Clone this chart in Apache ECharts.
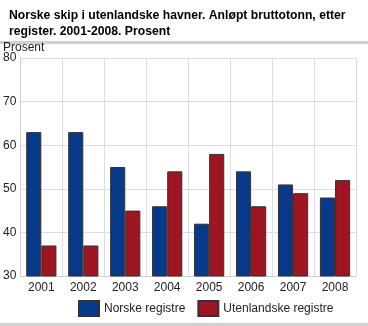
<!DOCTYPE html>
<html><head><meta charset="utf-8">
<script src="https://cdn.jsdelivr.net/npm/echarts@6/dist/echarts.min.js"></script>
<style>html,body{margin:0;padding:0;background:#fff}#c{width:368px;height:326px}</style>
</head><body><div id="c"></div>
<script>
const categories = ['2001','2002','2003','2004','2005','2006','2007','2008'];
const norske = [63,63,55,46,42,54,51,48];
const utenlandske = [37,37,45,54,58,46,49,52];
const yTicks = [30,40,50,60,70,80];

const chart = echarts.init(document.getElementById('c'), null, {renderer:'canvas'});
const font = 'Liberation Sans, Arial, sans-serif';
chart.setOption({
  animation:false,
  textStyle:{fontFamily:font},
  title:{
    text:'Norske skip i utenlandske havner. Anløpt bruttotonn, etter\nregister. 2001-2008. Prosent',
    left:4, top:3,
    textStyle:{fontFamily:font,fontSize:12.2,fontWeight:'bold',color:'#000',lineHeight:16}
  },
  graphic:[
    {type:'rect',shape:{x:0,y:41,width:368,height:3},style:{fill:'#d0d0d0'}},
    {type:'rect',shape:{x:0,y:323,width:368,height:3},style:{fill:'#d0d0d0'}},
    {type:'text',left:3,top:42,style:{text:'Prosent',font:'12px '+font,fill:'#222'}}
  ],
  legend:{
    bottom:4, left:73, icon:'rect',
    itemWidth:20, itemHeight:15, itemGap:12,
    textStyle:{fontFamily:font,fontSize:12,color:'#222'},
    data:['Norske registre','Utenlandske registre']
  },
  grid:{left:20,right:12,top:58,bottom:50},
  xAxis:{
    type:'category', data:categories,
    axisLine:{lineStyle:{color:'#ccc'}},
    axisTick:{show:false},
    splitLine:{show:true,lineStyle:{color:'#ddd'}},
    axisLabel:{color:'#222',fontSize:12,fontFamily:font,margin:6}
  },
  yAxis:{
    type:'value', min:yTicks[0], max:yTicks[yTicks.length-1], interval:10,
    axisLine:{show:true,lineStyle:{color:'#ccc'}},
    axisTick:{show:false},
    splitLine:{lineStyle:{color:'#ddd'}},
    axisLabel:{color:'#222',fontSize:12,fontFamily:font,margin:4}
  },
  series:[
    {name:'Norske registre',type:'bar',data:norske,barGap:'0%',barCategoryGap:'28%',
     itemStyle:{color:'#073a8a',borderColor:'#333',borderWidth:1}},
    {name:'Utenlandske registre',type:'bar',data:utenlandske,
     itemStyle:{color:'#9c1520',borderColor:'#333',borderWidth:1}}
  ]
});
</script></body></html>
